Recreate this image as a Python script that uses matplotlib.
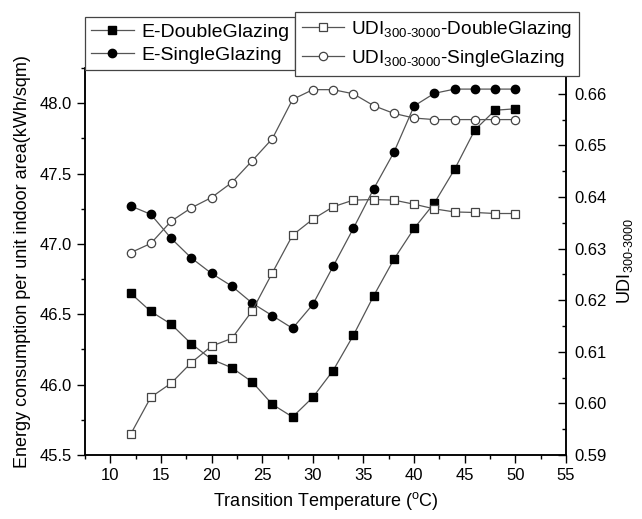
import numpy as np
import matplotlib
matplotlib.use("Agg")
import matplotlib.pyplot as plt
from matplotlib.ticker import MultipleLocator

# ============================================================
# DATA
# ============================================================

temps = [12, 14, 16, 18, 20, 22, 24, 26, 28, 30,
         32, 34, 36, 38, 40, 42, 44, 46, 48, 50]

e_double = [46.65, 46.52, 46.43, 46.29, 46.18, 46.12, 46.02, 45.86, 45.77, 45.91,
            46.10, 46.35, 46.63, 46.89, 47.11, 47.29, 47.53, 47.81, 47.95, 47.96]

e_single = [47.27, 47.21, 47.04, 46.90, 46.79, 46.70, 46.58, 46.49, 46.40, 46.57,
            46.84, 47.11, 47.39, 47.65, 47.98, 48.07, 48.10, 48.10, 48.10, 48.10]

udi_double = [0.5940, 0.6012, 0.6039, 0.6079, 0.6111, 0.6126, 0.6179, 0.6253, 0.6326, 0.6357,
              0.6381, 0.6394, 0.6395, 0.6394, 0.6386, 0.6377, 0.6371, 0.6370, 0.6368, 0.6368]

udi_single = [0.6292, 0.6310, 0.6353, 0.6379, 0.6399, 0.6428, 0.6470, 0.6513, 0.6589, 0.6608,
              0.6608, 0.6600, 0.6577, 0.6562, 0.6553, 0.6550, 0.6550, 0.6550, 0.6550, 0.6550]

# ============================================================
# STYLE
# ============================================================

plt.rcParams["font.family"] = ["Liberation Sans", "DejaVu Sans"]
plt.rcParams["mathtext.fontset"] = "custom"
plt.rcParams["mathtext.rm"] = "Liberation Sans"
plt.rcParams["mathtext.it"] = "Liberation Sans"
plt.rcParams["mathtext.default"] = "regular"

LINE_COLOR = "#555555"

fig = plt.figure(figsize=(6.42, 5.19), dpi=100)
ax = fig.add_axes([0.1324, 0.1233, 0.7492, 0.7457])
ax2 = ax.twinx()

# ============================================================
# PLOT
# ============================================================

ax.plot(temps, e_double, color=LINE_COLOR, linewidth=0.9,
        marker="s", markersize=5.5, markerfacecolor="black",
        markeredgecolor="black", label="E-DoubleGlazing")

ax.plot(temps, e_single, color=LINE_COLOR, linewidth=0.9,
        marker="o", markersize=6, markerfacecolor="black",
        markeredgecolor="black", label="E-SingleGlazing")

ax2.plot(temps, udi_double, color=LINE_COLOR, linewidth=0.9,
         marker="s", markersize=5.5, markerfacecolor="white",
         markeredgecolor="#444444", markeredgewidth=0.9,
         label=r"UDI$_{300\text{-}3000}$-DoubleGlazing")

ax2.plot(temps, udi_single, color=LINE_COLOR, linewidth=0.9,
         marker="o", markersize=6, markerfacecolor="white",
         markeredgecolor="#444444", markeredgewidth=0.9,
         label=r"UDI$_{300\text{-}3000}$-SingleGlazing")

# axes limits / ticks
ax.set_xlim(7.5, 55)
ax.set_ylim(45.5, 48.25)
ax2.set_ylim(0.59, 0.665)

ax.xaxis.set_major_locator(MultipleLocator(5))
ax.xaxis.set_minor_locator(MultipleLocator(2.5))
ax.yaxis.set_major_locator(MultipleLocator(0.5))
ax.yaxis.set_minor_locator(MultipleLocator(0.25))
ax2.yaxis.set_major_locator(MultipleLocator(0.01))
ax2.yaxis.set_minor_locator(MultipleLocator(0.005))

ax.yaxis.set_major_formatter(plt.FormatStrFormatter("%.1f"))
ax2.yaxis.set_major_formatter(plt.FormatStrFormatter("%.2f"))

ax.tick_params(which="major", direction="out", length=6, width=1, labelsize=12)
ax.tick_params(which="minor", direction="out", length=3, width=1)
ax2.tick_params(which="major", direction="in", length=6, width=1, labelsize=12, pad=6)
ax2.tick_params(which="minor", direction="in", length=3, width=1)

for a in (ax, ax2):
    a.spines["top"].set_visible(False)
    for s in ("left", "right", "bottom"):
        a.spines[s].set_linewidth(1.1)

ax.set_xlabel(r"Transition Temperature ($^{o}$C)", fontsize=13, labelpad=5)
ax.set_ylabel("Energy consumption per unit indoor area(kWh/sqm)", fontsize=13, labelpad=6)
ax2.set_ylabel(r"UDI$_{300\text{-}3000}$", fontsize=13, labelpad=6)

# ============================================================
# LEGENDS
# ============================================================

h1, l1 = ax.get_legend_handles_labels()
h2, l2 = ax2.get_legend_handles_labels()

leg1 = fig.legend(h1, l1, loc="upper left", bbox_to_anchor=(0.1324, 0.967),
                  fontsize=14, frameon=True, fancybox=False, edgecolor="#444444",
                  framealpha=1, handlelength=2.2, handletextpad=0.4,
                  borderpad=0.3, labelspacing=0.3, borderaxespad=0)
leg1.get_frame().set_linewidth(0.9)

leg2 = fig.legend(h2, l2, loc="upper left", bbox_to_anchor=(0.4595, 0.977),
                  fontsize=13.7, frameon=True, fancybox=False, edgecolor="#444444",
                  framealpha=1, handlelength=2.2, handletextpad=0.4,
                  borderpad=0.35, labelspacing=0.45, borderaxespad=0)
leg2.get_frame().set_linewidth(0.9)

fig.savefig("out.png", dpi=100)
